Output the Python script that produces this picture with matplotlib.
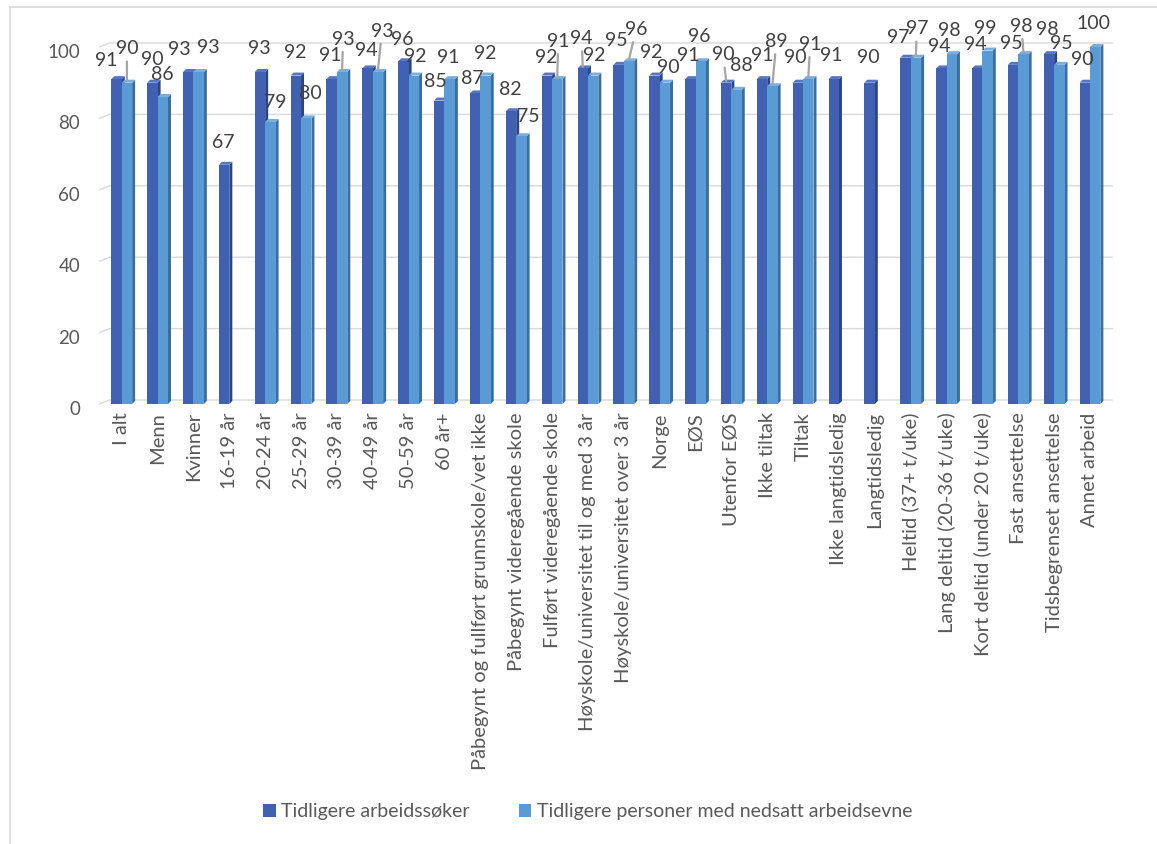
import numpy as np
import matplotlib
matplotlib.use("Agg")
import matplotlib.pyplot as plt
from matplotlib.patches import Polygon, Patch
from matplotlib.lines import Line2D
from matplotlib.transforms import ScaledTranslation

plt.rcParams["font.family"] = ["Lato", "DejaVu Sans"]

categories = [
    "I alt", "Menn", "Kvinner", "16-19 år", "20-24 år", "25-29 år", "30-39 år",
    "40-49 år", "50-59 år", "60 år+",
    "Påbegynt og fullført grunnskole/vet ikke", "Påbegynt videregående skole",
    "Fulført videregående skole", "Høyskole/universitet til og med 3 år",
    "Høyskole/universitet over 3 år", "Norge", "EØS", "Utenfor EØS",
    "Ikke tiltak", "Tiltak", "Ikke langtidsledig", "Langtidsledig",
    "Heltid (37+ t/uke)", "Lang deltid (20-36 t/uke)",
    "Kort deltid (under 20 t/uke)", "Fast ansettelse",
    "Tidsbegrenset ansettelse", "Annet arbeid",
]
arbeidssoker = [91, 90, 93, 67, 93, 92, 91, 94, 96, 85, 87, 82, 92, 94,
                95, 92, 91, 90, 91, 90, 91, 90, 97, 94, 94, 95, 98, 90]
nedsatt = [90, 86, 93, None, 79, 80, 93, 93, 92, 91, 92, 75, 91, 92,
           96, 90, 96, 88, 89, 91, None, None, 97, 98, 99, 98, 95, 100]
series_names = ["Tidligere arbeidssøker",
                "Tidligere personer med nedsatt arbeidsevne"]
yticks = [0, 20, 40, 60, 80, 100]

# label nudges in pixels (dx, dy above the bar top) and which ones get leader lines
dark_dx = [-10, 0, -9, -1, -1, -1, -1, -1, -1, -4, -3, -1, -1, -1,
           -2, -3, -2, -3, 0, -3, -2, -1, -7, -2, -2, -2, -2, -2]
dark_dy = [17, 21, 21, 21, 22, 21, 22, 16, 20, 17, 13, 20, 16, 28,
           23, 21, 22, 26, 22, 23, 22, 23, 18, 20, 22, 20, 23, 21]
dark_leader = {13, 17}
light_dx = [0, 0, 10, 0, 5, 4, 1, 4, 1, -1, 0, 7, 1, 1,
            7, 3, -1, 5, 4, 2, 0, 0, 1, -2, -2, -2, 2, -2]
light_dy = [32, 21, 23, 0, 18, 23, 31, 39, 17, 20, 20, 18, 36, 18,
            30, 13, 23, 23, 43, 33, 0, 0, 27, 22, 20, 26, 20, 22]
light_leader = {0, 6, 7, 12, 14, 18, 19, 22, 25}

DARK = ("#4061B1", "#2B4487", "#5676C4")
LIGHT = ("#5B9BD5", "#3B6E9F", "#7AAEDF")
TEXT = "#404040"
AXTEXT = "#595959"
GRID = "#d9d9d9"
FS_VAL = 14
FS_CAT = 14.5
FS_TICK = 13.5
FS_LEG = 14

W, H = 1157, 844
fig = plt.figure(figsize=(W / 100, H / 100), dpi=100)
fig.patch.set_facecolor("white")

x_lo, x_hi = -0.62, 27.62
left_px, right_px, top_px, bot_px = 99.5, 1112.2, 47, 404
ax = fig.add_axes([left_px / W, 1 - bot_px / H,
                   (right_px - left_px) / W, (bot_px - top_px) / H])
ax.set_xlim(x_lo, x_hi)
ax.set_ylim(0, 100)
ax.patch.set_alpha(0)
for s in ax.spines.values():
    s.set_visible(False)

px_x = (x_hi - x_lo) / (right_px - left_px)   # data units per pixel
px_y = 100 / (bot_px - top_px)

# back-wall gridlines with a small perspective lead-in
depth_x, depth_y = 10 * px_x, 4 * px_y
for t in yticks:
    ax.plot([x_lo, x_lo + depth_x, x_hi], [t, t + depth_y, t + depth_y],
            color=GRID, lw=1.0, zorder=0, clip_on=False)

bw = 0.29
side_x, side_y = 3 * px_x, 3 * px_y


def bar3d(x0, value, cols, z):
    front, side, top = cols
    ax.bar(x0, value, width=bw, align="edge", color=front, lw=0, zorder=z + 0.2)
    ax.add_patch(Polygon([(x0 + bw, 0), (x0 + bw + side_x, side_y),
                          (x0 + bw + side_x, value + side_y), (x0 + bw, value)],
                         closed=True, fc=side, lw=0, zorder=z, clip_on=False))
    ax.add_patch(Polygon([(x0, value), (x0 + side_x, value + side_y),
                          (x0 + bw + side_x, value + side_y), (x0 + bw, value)],
                         closed=True, fc=top, lw=0, zorder=z + 0.1, clip_on=False))


def value_label(xc, v, dx, dy, leader):
    ax.annotate(f"{v}", xy=(xc, v + 0.5), xytext=(dx, dy),
                textcoords="offset pixels", ha="center", va="center",
                fontsize=FS_VAL, color=TEXT, zorder=6, annotation_clip=False,
                arrowprops=(dict(arrowstyle="-", color="#a5a5a5", lw=1.6,
                                 shrinkA=1, shrinkB=0) if leader else None))


x = np.arange(len(categories))
for i in x:
    v = arbeidssoker[i]
    bar3d(i - bw, v, DARK, 2)
    value_label(i - bw / 2, v, dark_dx[i], dark_dy[i], i in dark_leader)
    v2 = nedsatt[i]
    if v2 is not None:
        bar3d(i, v2, LIGHT, 3)
        value_label(i + bw / 2, v2, light_dx[i], light_dy[i], i in light_leader)

ax.set_xticks(x)
ax.set_xticklabels(categories, rotation=90, ha="center", va="top",
                   fontsize=FS_CAT, color=AXTEXT)
ax.set_yticks(yticks)
ax.set_yticklabels([str(t) for t in yticks], fontsize=FS_TICK, color=AXTEXT)
ax.tick_params(axis="x", length=0, pad=6)
ax.tick_params(axis="y", length=0, pad=14)
shift = ScaledTranslation(0, -4 / 100, fig.dpi_scale_trans)
for lab in ax.get_yticklabels():
    lab.set_transform(lab.get_transform() + shift)

handles = [Patch(facecolor=DARK[0], edgecolor="none"),
           Patch(facecolor=LIGHT[0], edgecolor="none")]
fig.legend(handles, series_names, loc="center", bbox_to_anchor=(0.508, 1 - 812 / H),
           ncol=2, frameon=False, fontsize=FS_LEG, labelcolor=AXTEXT,
           handlelength=0.65, handleheight=0.65, handletextpad=0.3,
           columnspacing=2.5)

# chart-area border
bx, by = 10 / W, 1 - 7 / H
fig.add_artist(Line2D([bx, bx], [0, by], color=GRID, lw=1.2))
fig.add_artist(Line2D([bx, 1], [by, by], color=GRID, lw=1.2))

fig.savefig("out.png", dpi=100)
